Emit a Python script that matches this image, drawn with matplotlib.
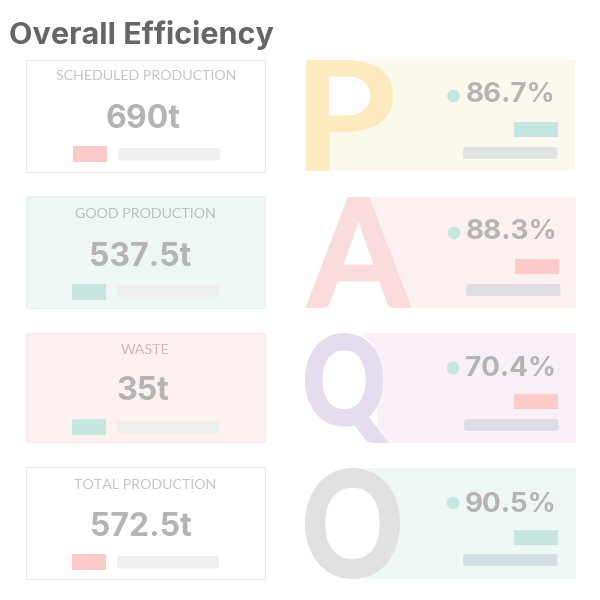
import matplotlib
matplotlib.use("Agg")
import matplotlib.pyplot as plt
from matplotlib.font_manager import FontProperties
from matplotlib.patches import Rectangle, FancyBboxPatch, Circle, Polygon
from matplotlib.patheffects import AbstractPathEffect
from matplotlib.textpath import TextPath
from matplotlib.transforms import Affine2D

# cards on the left
card_titles = ["SCHEDULED PRODUCTION", "GOOD PRODUCTION", "WASTE", "TOTAL PRODUCTION"]
card_values = ["690t", "537.5t", "35t", "572.5t"]
card_faces = ["#ffffff", "#eff7f6", "#fdf0f0", "#ffffff"]
card_edges = ["#e6e6e6", "#e8f0ef", "#f6e8e8", "#e6e6e6"]
card_title_colors = ["#c4c4c4", "#b7bfbd", "#d6b4b6", "#c4c4c4"]
card_chip_colors = ["#fccbc7", "#c6e6e0", "#c6e6e0", "#fccbc7"]

# letter panels on the right
panel_letters = ["P", "A", "Q", "O"]
panel_values = ["86.7%", "88.3%", "70.4%", "90.5%"]
panel_faces = ["#fdf8ed", "#fdf0f0", "#f9eff6", "#eff7f6"]
letter_colors = ["#fdeabf", "#fbdcdc", "#e5dced", "#e1e1df"]
panel_chip_colors = ["#c6e6e0", "#fccbc7", "#fccbc7", "#c6e6e0"]
panel_bar_colors = ["#e0e5e1", "#dfdee3", "#dedde6", "#d4e0e3"]

# layout, pixels from the top left
card_tops = [60.5, 196.5, 333.5, 467.5]
card_bottoms = [172.5, 308.5, 442.5, 579.5]
card_title_x = [146, 145, 145.5, 145]
card_title_y = [76, 214, 349.5, 485]
card_value_x = [143, 140, 142.5, 140.5]
card_value_y = [119, 257, 391.5, 527]
card_chip_x = [73, 72, 72, 72]
card_chip_y = [146, 284, 419, 554]
card_bar_x = [118, 117, 117, 117]
card_bar_y = [148, 285, 421, 556]

# the panels stop behind the letters, their left edges hide inside the strokes
panel_shapes = [
    [(360, 60), (575, 60), (575, 171), (320, 171), (320, 123), (380, 123), (380, 90)],
    [(366, 197), (576, 197), (576, 308), (400, 308)],
    [(362, 333), (576, 333), (576, 443), (376, 443), (378, 432), (376, 400), (373, 345)],
    [(364, 468), (576, 468), (576, 579), (364, 579), (388, 555), (388, 492)],
]
letter_boxes = [(306, 393, 60, 171), (306, 411, 197, 308), (305, 387, 333, 443), (305, 400, 468, 579)]
letter_strokes = [0.5, 2.5, 3.5, 3.0]
panel_value_x = [466, 466, 465, 465]
panel_value_y = [95, 232, 368.5, 505]
dot_x = [453.5, 454, 453, 453]
dot_y = [96, 233, 368, 503]
panel_chip_x = [514, 515, 514, 514]
panel_chip_y = [122, 259, 394, 530]
panel_bar_x = [463, 466, 464, 463]
panel_bar_y = [147, 284, 419, 554]

plt.rcParams['font.family'] = ['Inter', 'DejaVu Sans']

fig = plt.figure(figsize=(6, 6), dpi=100)
ax = fig.add_axes([0, 0, 1, 1])
ax.set_xlim(0, 600)
ax.set_ylim(600, 0)
ax.axis("off")


class FitBox(AbstractPathEffect):
    # stretches a glyph so it fills a box, no single font has these proportions
    def __init__(self, letter, anchor, box, em, stroke):
        ext = TextPath((0, 0), letter, size=em, prop=FontProperties(family="Lato", weight="bold")).get_extents()
        left, right, top, bottom = box
        left, right, top, bottom = left + stroke / 2, right - stroke / 2, top + stroke / 2, bottom - stroke / 2
        sx = (right - left) / ext.width
        sy = (bottom - top) / ext.height
        self.stroke = stroke
        self.fit = (Affine2D().translate(-anchor[0], -(600 - anchor[1])).scale(sx, sy)
                    .translate(left - sx * ext.x0, 600 - bottom - sy * ext.y0))

    def draw_path(self, renderer, gc, tpath, affine, rgbFace=None):
        gc0 = renderer.new_gc()
        gc0.copy_properties(gc)
        gc0.set_foreground(rgbFace)
        gc0.set_linewidth(self.stroke * 72 / 100)
        gc0.set_joinstyle("miter")
        renderer.draw_path(gc0, tpath, affine + self.fit, rgbFace)
        gc0.restore()


def rounded(x0, y0, x1, y1, face, edge="none", rad=3, lw=0.0, z=2):
    ax.add_patch(FancyBboxPatch((x0 + rad, y0 + rad), x1 - x0 - 2 * rad, y1 - y0 - 2 * rad,
                                boxstyle=f"round,pad={rad},rounding_size={rad}",
                                facecolor=face, edgecolor=edge, linewidth=lw, zorder=z))


ax.text(9, 35, "Overall Efficiency", fontsize=22, fontweight="bold", color="#666666",
        ha="left", va="center")

for i in range(4):
    top, bottom = card_tops[i], card_bottoms[i]
    rounded(26.5, top, 265.5, bottom, card_faces[i], card_edges[i], rad=2, lw=0.8)
    ax.text(card_title_x[i], card_title_y[i], card_titles[i], family="Lato", fontsize=10.3,
            color=card_title_colors[i], ha="center", va="center")
    ax.text(card_value_x[i], card_value_y[i], card_values[i], fontsize=23, fontweight="bold",
            color="#b4b4b4", ha="center", va="center")
    ax.add_patch(Rectangle((card_chip_x[i], card_chip_y[i]), 34, 16, facecolor=card_chip_colors[i],
                           edgecolor="none", zorder=3))
    rounded(card_bar_x[i], card_bar_y[i], card_bar_x[i] + 102, card_bar_y[i] + 12.5, "#eeeeee", z=3)

for i in range(4):
    ax.add_patch(Polygon(panel_shapes[i], closed=True, facecolor=panel_faces[i], edgecolor="none", zorder=1))
    left, right, top, bottom = letter_boxes[i]
    # kept small and stretched so the text box stays inside the figure
    ax.text(left, bottom, panel_letters[i], family="Lato", fontsize=70, fontweight="bold",
            color=letter_colors[i], ha="left", va="baseline", zorder=4,
            path_effects=[FitBox(panel_letters[i], (left, bottom), letter_boxes[i], 70 * 100 / 72, letter_strokes[i])])
    ax.add_patch(Circle((dot_x[i], dot_y[i]), 6.3, facecolor="#c6e6e0", edgecolor="none", zorder=3))
    ax.text(panel_value_x[i], panel_value_y[i], panel_values[i], fontsize=20, fontweight="bold",
            color="#b4b4b4", ha="left", va="center", zorder=3)
    ax.add_patch(Rectangle((panel_chip_x[i], panel_chip_y[i]), 44, 15, facecolor=panel_chip_colors[i],
                           edgecolor="none", zorder=3))
    rounded(panel_bar_x[i], panel_bar_y[i], panel_bar_x[i] + 94.5, panel_bar_y[i] + 12,
            panel_bar_colors[i], z=3)

fig.savefig("out.png", dpi=100)
